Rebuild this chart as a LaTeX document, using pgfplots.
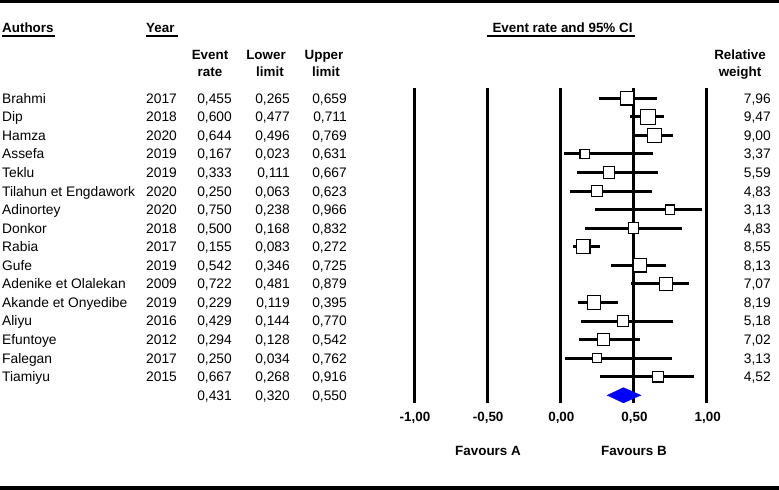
\documentclass[border=0pt]{standalone}
\usepackage{pgfplots}
\pgfplotsset{compat=1.18}
\usepackage{pgfplotstable}
\usepackage{fontspec}
\setmainfont{Liberation Sans}

\newcommand{\rmsize}{\fontsize{13.8bp}{16bp}\selectfont}
\newcommand{\bfsize}{\fontsize{13.4bp}{16bp}\selectfont\bfseries}
% pixel column -> effect size units (0 at 560.35px, 146.35px per unit)
\newcommand{\px}[1]{((#1)-560.35)/146.35}

\pgfplotstableread[col sep=comma]{
row,author,year,er,lo,hi,w
1,Brahmi,2017,0.455,0.265,0.659,7.96
2,Dip,2018,0.600,0.477,0.711,9.47
3,Hamza,2020,0.644,0.496,0.769,9.00
4,Assefa,2019,0.167,0.023,0.631,3.37
5,Teklu,2019,0.333,0.111,0.667,5.59
6,Tilahun et Engdawork,2020,0.250,0.063,0.623,4.83
7,Adinortey,2020,0.750,0.238,0.966,3.13
8,Donkor,2018,0.500,0.168,0.832,4.83
9,Rabia,2017,0.155,0.083,0.272,8.55
10,Gufe,2019,0.542,0.346,0.725,8.13
11,Adenike et Olalekan,2009,0.722,0.481,0.879,7.07
12,Akande et Onyedibe,2019,0.229,0.119,0.395,8.19
13,Aliyu,2016,0.429,0.144,0.770,5.18
14,Efuntoye,2012,0.294,0.128,0.542,7.02
15,Falegan,2017,0.250,0.034,0.762,3.13
16,Tiamiyu,2015,0.667,0.268,0.916,4.52
}\studies

\pgfplotstableread[col sep=comma]{
row,er,lo,hi
17,0.431,0.320,0.550
}\pooled

\pgfplotsset{
  /pgf/number format/assume math mode=true,
  txt/.style={only marks, mark=none, nodes near coords,
    nodes near coords style={font=\rmsize, text=black, inner sep=0pt, yshift=-4.9bp, anchor=#1}},
  num/.style 2 args={txt=base east, point meta=\thisrow{#1},
    nodes near coords={\pgfmathprintnumber[fixed, fixed zerofill, precision=#2, use comma]{\pgfplotspointmeta}}},
}

\begin{document}
\begin{tikzpicture}
\begin{axis}[
  width=779bp, height=490bp, scale only axis,
  xmin=-3.8288, xmax=1.4940,
  ymin=-4.2964, ymax=22.104, y dir=reverse,
  hide axis, clip=false,
]
% reference lines
\pgfplotsinvokeforeach{-1,-0.5,0,0.5,1}{
  \addplot[black, line width=3bp] coordinates {(#1,0.445) (#1,17.417)};
}

% confidence intervals
\addplot[only marks, mark=none,
  error bars/.cd, x dir=both, x explicit, error mark=none,
  error bar style={draw=black, line width=3bp}]
  table[x=er, y=row,
    x error minus expr=\thisrow{er}-\thisrow{lo},
    x error plus expr=\thisrow{hi}-\thisrow{er}]{\studies};

% study estimates, box size by weight
\addplot[scatter, only marks, mark=square*, point meta=\thisrow{w},
  scatter/use mapped color={draw=black, fill=white},
  visualization depends on={\thisrow{w} \as \wt},
  scatter/@pre marker code/.append style={/tikz/mark size=0.425*\wt+3.3},
  mark options={line width=1.2bp}]
  table[x=er, y=row]{\studies};

% pooled estimate
\addplot[fill=blue, draw=blue] coordinates {(0.320,17) (0.431,16.59) (0.550,17) (0.431,17.41)} --cycle;

% table columns
\addplot[txt=base west, point meta=explicit symbolic] table[x expr=\px{2}, y=row, meta=author]{\studies};
\addplot[txt=base west, point meta=explicit symbolic] table[x expr=\px{146}, y=row, meta=year]{\studies};
\addplot[num={er}{3}] table[x expr=\px{232}, y=row]{\studies};
\addplot[num={lo}{3}] table[x expr=\px{290}, y=row]{\studies};
\addplot[num={hi}{3}] table[x expr=\px{347}, y=row]{\studies};
\addplot[num={w}{2}] table[x expr=\px{771}, y=row]{\studies};
\addplot[num={er}{3}] table[x expr=\px{232}, y=row]{\pooled};
\addplot[num={lo}{3}] table[x expr=\px{290}, y=row]{\pooled};
\addplot[num={hi}{3}] table[x expr=\px{347}, y=row]{\pooled};
\end{axis}

% headers and frame, in pixel coordinates
\begin{scope}[shift={(0bp,490bp)}, x=1bp, y=-1bp, font=\bfsize]
  \fill (0,0) rectangle (779,3.5);
  \fill (0,486.5) rectangle (779,490);

  \node[anchor=base west, inner sep=0] at (2,33) {Authors};
  \draw[line width=1.5bp] (2,36.2) -- (55,36.2);
  \node[anchor=base west, inner sep=0] at (146,33) {Year};
  \draw[line width=1.5bp] (146,36.2) -- (178,36.2);
  \node[anchor=base, inner sep=0] at (562.5,33) {Event rate and 95\% CI};
  \draw[line width=1.5bp] (487,36.2) -- (635,36.2);

  \node[anchor=base, inner sep=0] at (210,60) {Event};
  \node[anchor=base, inner sep=0] at (210,77) {rate};
  \node[anchor=base, inner sep=0] at (266,60) {Lower};
  \node[anchor=base, inner sep=0] at (270,77) {limit};
  \node[anchor=base, inner sep=0] at (324,60) {Upper};
  \node[anchor=base, inner sep=0] at (326,77) {limit};
  \node[anchor=base, inner sep=0] at (740,60) {Relative};
  \node[anchor=base, inner sep=0] at (740,77) {weight};

  \foreach \t in {-1,-0.5,0,0.5,1}
    \node[anchor=base, inner sep=0] at ({561.35+146.35*\t},422)
      {\pgfmathprintnumber[fixed, fixed zerofill, precision=2, use comma]{\t}};

  \node[anchor=base, inner sep=0] at (488,456) {Favours A};
  \node[anchor=base, inner sep=0] at (634,456) {Favours B};
\end{scope}
\end{tikzpicture}
\end{document}
